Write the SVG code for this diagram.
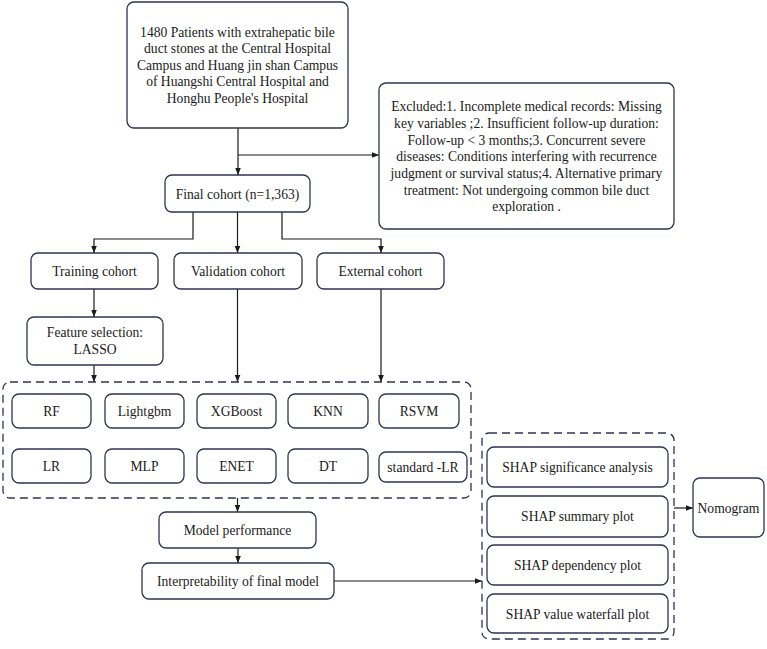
<svg xmlns="http://www.w3.org/2000/svg" width="767" height="649" viewBox="0 0 767 649">
<style>
.b{fill:#fff;stroke:#2f3352;stroke-width:1.3}
.d{fill:none;stroke:#2f3352;stroke-width:1.3;stroke-dasharray:8 5}
.t{font-family:'Liberation Serif','Times New Roman',serif;font-size:13.6px;fill:#1a1a1a;text-anchor:middle;dominant-baseline:central}
.c{fill:none;stroke:#1a1a1a;stroke-width:1.2}
</style>
<defs>
<marker id="a" viewBox="0 0 10 10" refX="10" refY="5" markerWidth="7" markerHeight="7" markerUnits="userSpaceOnUse" orient="auto">
<path d="M0,1 L10,5 L0,9 z" fill="#1a1a1a"/>
</marker>
</defs>
<rect width="767" height="649" fill="#fff"/>
<g id="connectors">
<path class="c" d="M238,128 V175" marker-end="url(#a)"/>
<path class="c" d="M238,155 H379" marker-end="url(#a)"/>
<path class="c" d="M193,212 V239 H94 V253" marker-end="url(#a)"/>
<path class="c" d="M237.5,212 V253" marker-end="url(#a)"/>
<path class="c" d="M282,212 V239 H381 V253" marker-end="url(#a)"/>
<path class="c" d="M94,289 V317" marker-end="url(#a)"/>
<path class="c" d="M94,365 V382" marker-end="url(#a)"/>
<path class="c" d="M237.5,289 V382" marker-end="url(#a)"/>
<path class="c" d="M381,289 V382" marker-end="url(#a)"/>
<path class="c" d="M237.5,498 V512" marker-end="url(#a)"/>
<path class="c" d="M238,548 V563" marker-end="url(#a)"/>
<path class="c" d="M334,581 H482" marker-end="url(#a)"/>
<path class="c" d="M674,508 H693" marker-end="url(#a)"/>
</g>
<g id="patients">
<rect class="b" x="127" y="2" width="221" height="126" rx="7"/>
<text class="t" x="237.5" y="32">1480 Patients with extrahepatic bile</text>
<text class="t" x="237.5" y="48.5">duct stones at the Central Hospital</text>
<text class="t" x="237.5" y="65">Campus and Huang jin shan Campus</text>
<text class="t" x="237.5" y="81.5">of Huangshi Central Hospital and</text>
<text class="t" x="237.5" y="98">Honghu People's Hospital</text>
</g>
<g id="excluded">
<rect class="b" x="379" y="83" width="295" height="146" rx="7"/>
<text class="t" x="526.5" y="106.7">Excluded:1. Incomplete medical records: Missing</text>
<text class="t" x="526.5" y="123.3">key variables ;2. Insufficient follow-up duration:</text>
<text class="t" x="526.5" y="140">Follow-up &lt; 3 months;3. Concurrent severe</text>
<text class="t" x="526.5" y="156.7">diseases: Conditions interfering with recurrence</text>
<text class="t" x="526.5" y="173.3">judgment or survival status;4. Alternative primary</text>
<text class="t" x="526.5" y="190">treatment: Not undergoing common bile duct</text>
<text class="t" x="526.5" y="206.7">exploration .</text>
</g>
<g id="final">
<rect class="b" x="165" y="175" width="145" height="37" rx="7"/>
<text class="t" x="237.5" y="194">Final cohort (n=1,363)</text>
</g>
<g id="training">
<rect class="b" x="31" y="253" width="127" height="36" rx="7"/>
<text class="t" x="94.5" y="271">Training cohort</text>
</g>
<g id="validation">
<rect class="b" x="174" y="253" width="128" height="36" rx="7"/>
<text class="t" x="238" y="271">Validation cohort</text>
</g>
<g id="external">
<rect class="b" x="317" y="253" width="127" height="36" rx="7"/>
<text class="t" x="380.5" y="271">External cohort</text>
</g>
<g id="feature">
<rect class="b" x="27" y="317" width="136" height="48" rx="7"/>
<text class="t" x="95" y="332.5">Feature selection:</text>
<text class="t" x="95" y="349.5">LASSO</text>
</g>
<g id="models">
<rect class="d" x="3" y="382" width="468" height="116" rx="7"/>
<g id="rf"><rect class="b" x="12" y="394" width="79" height="34" rx="7"/><text class="t" x="51.5" y="411.5">RF</text></g>
<g id="lightgbm"><rect class="b" x="105" y="394" width="79" height="34" rx="7"/><text class="t" x="144.5" y="411.5">Lightgbm</text></g>
<g id="xgboost"><rect class="b" x="197" y="394" width="79" height="34" rx="7"/><text class="t" x="236.5" y="411.5">XGBoost</text></g>
<g id="knn"><rect class="b" x="288" y="394" width="80" height="34" rx="7"/><text class="t" x="328" y="411.5">KNN</text></g>
<g id="rsvm"><rect class="b" x="379" y="394" width="80" height="34" rx="7"/><text class="t" x="419" y="411.5">RSVM</text></g>
<g id="lr"><rect class="b" x="12" y="449" width="79" height="34" rx="7"/><text class="t" x="51.5" y="466.5">LR</text></g>
<g id="mlp"><rect class="b" x="105" y="449" width="79" height="34" rx="7"/><text class="t" x="144.5" y="466.5">MLP</text></g>
<g id="enet"><rect class="b" x="197" y="449" width="79" height="34" rx="7"/><text class="t" x="236.5" y="466.5">ENET</text></g>
<g id="dt"><rect class="b" x="288" y="449" width="80" height="34" rx="7"/><text class="t" x="328" y="466.5">DT</text></g>
<g id="stdlr"><rect class="b" x="379" y="452" width="88" height="30" rx="7"/><text class="t" x="423" y="467">standard -LR</text></g>
</g>
<g id="performance">
<rect class="b" x="159" y="512" width="157" height="36" rx="7"/>
<text class="t" x="237.5" y="530.5">Model performance</text>
</g>
<g id="interpretability">
<rect class="b" x="142" y="563" width="192" height="36" rx="7"/>
<text class="t" x="238" y="581">Interpretability of final model</text>
</g>
<g id="shap">
<rect class="d" x="482" y="433" width="192" height="206" rx="7"/>
<g id="shap1"><rect class="b" x="487" y="447" width="181" height="40" rx="7"/><text class="t" x="577.5" y="467">SHAP significance analysis</text></g>
<g id="shap2"><rect class="b" x="487" y="496" width="181" height="41" rx="7"/><text class="t" x="577.5" y="516.5">SHAP summary plot</text></g>
<g id="shap3"><rect class="b" x="487" y="545" width="181" height="40" rx="7"/><text class="t" x="577.5" y="565.5">SHAP dependency plot</text></g>
<g id="shap4"><rect class="b" x="487" y="594" width="181" height="39" rx="7"/><text class="t" x="577.5" y="614">SHAP value waterfall plot</text></g>
</g>
<g id="nomogram">
<rect class="b" x="693" y="478" width="71" height="59" rx="7"/>
<text class="t" x="728.5" y="508">Nomogram</text>
</g>
</svg>
